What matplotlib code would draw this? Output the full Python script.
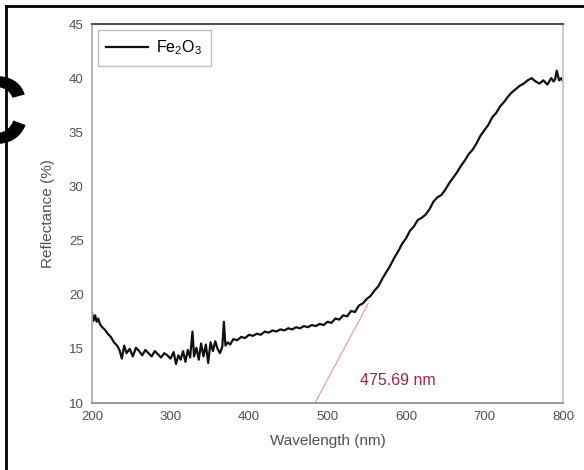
import matplotlib
matplotlib.use("Agg")
import matplotlib.pyplot as plt
from matplotlib.lines import Line2D

plt.rcParams['font.family'] = ['Liberation Sans', 'DejaVu Sans']

# reflectance spectrum
wavelength = [200, 202, 204, 206, 208, 210, 213, 216, 220, 224, 228, 232, 235, 238, 241,
              244, 248, 252, 256, 260, 264, 268, 272, 276, 280, 284, 288, 292, 296, 300,
              304, 307, 310, 313, 316, 319, 322, 325, 328, 330, 333, 336, 339, 342, 345,
              348, 351, 354, 357, 360, 363, 366, 368, 370, 373, 376, 380, 385, 390, 395,
              400, 405, 410, 415, 420, 425, 430, 435, 440, 445, 450, 455, 460, 465, 470,
              475, 480, 485, 490, 495, 500, 505, 510, 515, 520, 525, 530, 535, 540, 545,
              550, 555, 560, 565, 570, 575, 580, 585, 590, 595, 600, 605, 610, 615, 620,
              625, 630, 635, 640, 645, 650, 655, 660, 665, 670, 675, 680, 685, 690, 695,
              700, 705, 710, 715, 720, 725, 730, 735, 740, 745, 750, 755, 760, 765, 770,
              775, 780, 785, 788, 790, 792, 795, 798, 800]
reflectance = [18.3, 17.6, 18.1, 17.5, 17.8, 17.3, 17.0, 16.8, 16.4, 16.1, 15.6, 15.3, 14.9, 14.1, 15.3,
               14.6, 15.0, 14.3, 15.1, 14.8, 14.4, 14.9, 14.6, 14.3, 14.8, 14.5, 14.2, 14.6, 14.4, 14.1,
               14.7, 13.6, 14.4, 14.0, 14.8, 13.8, 14.9, 14.2, 16.6, 14.3, 15.1, 14.0, 15.5, 14.3, 15.4,
               13.7, 15.6, 14.8, 15.7, 15.0, 14.6, 15.2, 17.5, 15.3, 15.6, 15.4, 15.9, 15.8, 16.1, 16.0,
               16.3, 16.2, 16.4, 16.3, 16.6, 16.5, 16.7, 16.6, 16.8, 16.7, 16.9, 16.8, 17.0, 16.9, 17.1,
               17.0, 17.2, 17.1, 17.3, 17.2, 17.5, 17.4, 17.8, 17.7, 18.1, 18.0, 18.5, 18.4, 19.0, 19.2,
               19.6, 19.9, 20.4, 20.8, 21.5, 22.1, 22.7, 23.4, 24.0, 24.7, 25.2, 25.9, 26.3, 26.9, 27.1,
               27.4, 27.9, 28.6, 29.0, 29.2, 29.7, 30.3, 30.8, 31.3, 31.9, 32.4, 33.0, 33.4, 34.0, 34.7,
               35.2, 35.7, 36.4, 36.8, 37.4, 37.8, 38.3, 38.7, 39.0, 39.3, 39.5, 39.8, 40.0, 39.7, 39.5,
               39.8, 39.4, 40.0, 39.7, 39.9, 40.7, 39.8, 40.0, 39.7]

# tangent used for the band edge
tangent_x = [484, 552]
tangent_y = [10, 19.2]
edge_label = "475.69 nm"

fig = plt.figure(figsize=(5.84, 4.70), dpi=100)
ax = fig.add_axes([92/584, 1-403/470, (563-92)/584, (403-24)/470])

ax.plot(wavelength, reflectance, color='#111111', lw=1.6, label=r'$\mathregular{Fe_2O_3}$')
ax.plot(tangent_x, tangent_y, color='#e8a0a8', lw=0.9)
ax.text(590, 12.1, edge_label, color='#9b2545', fontsize=11.5, ha='center', va='center')

ax.set_xlim(200, 800)
ax.set_ylim(10, 45)
ax.set_xticks(range(200, 801, 100))
ax.set_yticks(range(10, 46, 5))
ax.tick_params(length=0, labelsize=9.5, colors='#505050', pad=6)
ax.set_xlabel('Wavelength (nm)', fontsize=11, color='#505050', labelpad=8)
ax.set_ylabel('Reflectance (%)', fontsize=11, color='#505050', labelpad=10)

ax.spines['left'].set_color('#b0b0b0')
ax.spines['right'].set_color('#c8c8c8')
ax.spines['bottom'].set_color('#909090')
ax.spines['top'].set_color('#505050')
ax.spines['top'].set_linewidth(1.5)
for s in ['left', 'right', 'bottom']:
    ax.spines[s].set_linewidth(1.3)

leg = ax.legend(loc='upper left', fontsize=11.5, fancybox=False, edgecolor='#b0b0b0',
                borderaxespad=0.35, handlelength=2.6, handletextpad=0.5, borderpad=0.55)
leg.get_frame().set_linewidth(1.0)

# outer frame of the panel and the cut panel letter
fig.add_artist(Line2D([6/584, 6/584], [0, 1-6/470], color='black', lw=2))
fig.add_artist(Line2D([6/584, 1], [1-6/470, 1-6/470], color='black', lw=2))
fig.text(-42/584, 1-118/470, 'C', fontsize=70, fontweight='bold', ha='left', va='center')

fig.savefig('out.png', dpi=100)
